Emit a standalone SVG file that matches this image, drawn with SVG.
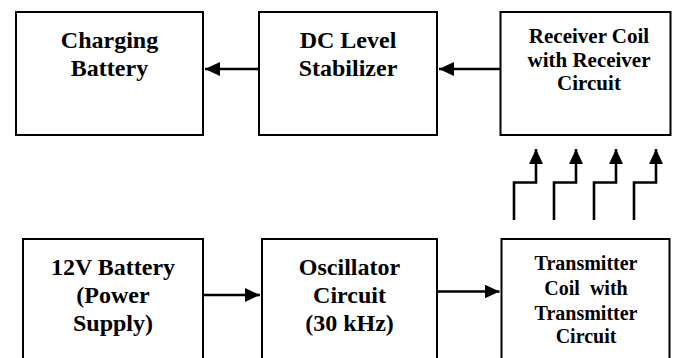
<svg xmlns="http://www.w3.org/2000/svg" width="678" height="358" viewBox="0 0 678 358">
<style>
.box{fill:#fff;stroke:#000;stroke-width:2}
.c{fill:none;stroke:#000;stroke-width:2.6}
</style>
<defs>
<marker id="ah" viewBox="0 0 15 14" refX="15" refY="7" markerWidth="15" markerHeight="14" markerUnits="userSpaceOnUse" orient="auto">
<path d="M0,0 L15,7 L0,14 z" fill="#000"/>
</marker>
</defs>
<rect width="678" height="358" fill="#fff"/>
<g id="charging-battery">
<rect class="box" x="16" y="12" width="187" height="123"/>
<text x="109.5" y="48" style="font-family:'Liberation Serif',serif;font-weight:bold;font-size:24px;text-anchor:middle">Charging</text>
<text x="109.5" y="76" style="font-family:'Liberation Serif',serif;font-weight:bold;font-size:24px;text-anchor:middle">Battery</text>
</g>
<g id="dc-level-stabilizer">
<rect class="box" x="259" y="12" width="178" height="123"/>
<text x="348" y="48" style="font-family:'Liberation Serif',serif;font-weight:bold;font-size:24px;text-anchor:middle">DC Level</text>
<text x="348" y="76" style="font-family:'Liberation Serif',serif;font-weight:bold;font-size:24px;text-anchor:middle">Stabilizer</text>
</g>
<g id="receiver">
<rect class="box" x="500.5" y="12" width="170" height="123"/>
<text x="589" y="43" style="font-family:'Liberation Serif',serif;font-weight:bold;font-size:21px;text-anchor:middle">Receiver Coil</text>
<text x="589" y="66.5" style="font-family:'Liberation Serif',serif;font-weight:bold;font-size:21px;text-anchor:middle">with Receiver</text>
<text x="589" y="90" style="font-family:'Liberation Serif',serif;font-weight:bold;font-size:21px;text-anchor:middle">Circuit</text>
</g>
<g id="battery-12v">
<rect class="box" x="23" y="239" width="180" height="140"/>
<text x="113" y="274.5" style="font-family:'Liberation Serif',serif;font-weight:bold;font-size:24px;text-anchor:middle">12V Battery</text>
<text x="113" y="303" style="font-family:'Liberation Serif',serif;font-weight:bold;font-size:24px;text-anchor:middle">(Power</text>
<text x="113" y="331" style="font-family:'Liberation Serif',serif;font-weight:bold;font-size:24px;text-anchor:middle">Supply)</text>
</g>
<g id="oscillator">
<rect class="box" x="262" y="239" width="175" height="140"/>
<text x="349.5" y="274.5" style="font-family:'Liberation Serif',serif;font-weight:bold;font-size:24px;text-anchor:middle">Oscillator</text>
<text x="349.5" y="303" style="font-family:'Liberation Serif',serif;font-weight:bold;font-size:24px;text-anchor:middle">Circuit</text>
<text x="349.5" y="331" style="font-family:'Liberation Serif',serif;font-weight:bold;font-size:24px;text-anchor:middle">(30 kHz)</text>
</g>
<g id="transmitter">
<rect class="box" x="501.5" y="239" width="168" height="140"/>
<text x="586" y="269.5" style="font-family:'Liberation Serif',serif;font-weight:bold;font-size:20px;text-anchor:middle">Transmitter</text>
<text x="586" y="294.5" style="font-family:'Liberation Serif',serif;font-weight:bold;font-size:20px;text-anchor:middle;white-space:pre">Coil  with</text>
<text x="586" y="319.5" style="font-family:'Liberation Serif',serif;font-weight:bold;font-size:20px;text-anchor:middle">Transmitter</text>
<text x="586" y="343" style="font-family:'Liberation Serif',serif;font-weight:bold;font-size:20px;text-anchor:middle">Circuit</text>
</g>
<g id="connectors">
<line class="c" x1="259" y1="69" x2="205" y2="69" marker-end="url(#ah)"/>
<line class="c" x1="500" y1="69" x2="439" y2="69" marker-end="url(#ah)"/>
<line class="c" x1="203" y1="295" x2="260" y2="295" marker-end="url(#ah)"/>
<line class="c" x1="437" y1="291.5" x2="499.5" y2="291.5" marker-end="url(#ah)"/>
<path class="c" d="M514,220 V182.5 H536 V149" marker-end="url(#ah)"/>
<path class="c" d="M554,220 V182.5 H576 V149" marker-end="url(#ah)"/>
<path class="c" d="M594,220 V182.5 H616 V149" marker-end="url(#ah)"/>
<path class="c" d="M634,220 V182.5 H656 V149" marker-end="url(#ah)"/>
</g>
</svg>
